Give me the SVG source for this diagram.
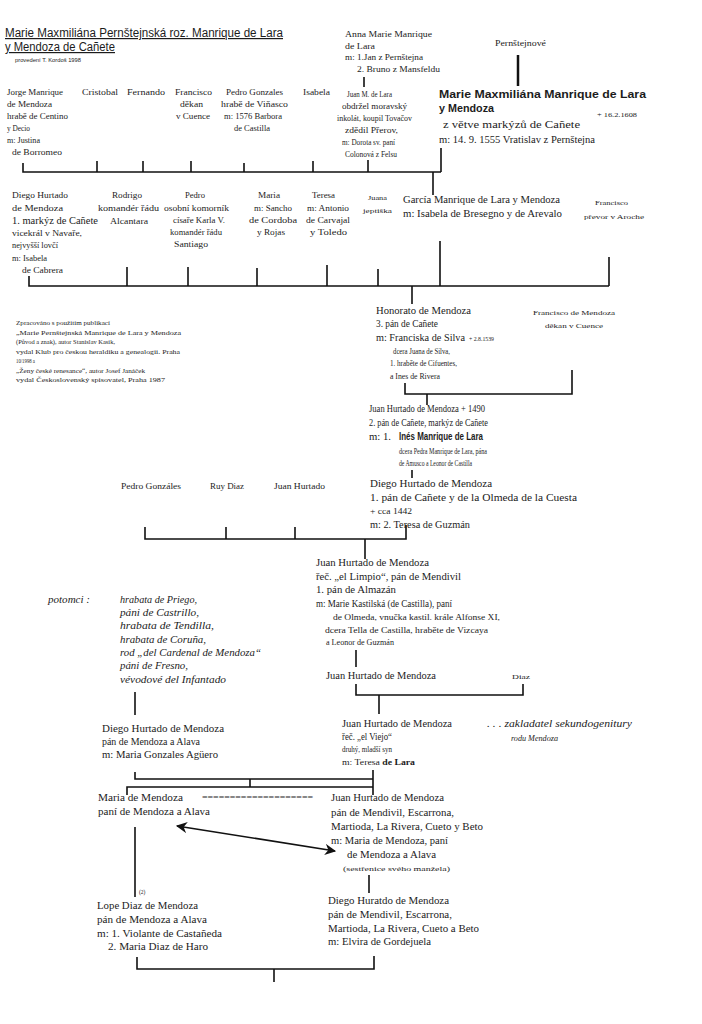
<svg xmlns="http://www.w3.org/2000/svg" width="702" height="1024" viewBox="0 0 702 1024">
<defs>
<style>
text{font-family:"Liberation Serif","Times New Roman",serif;fill:#1c1c1c;font-size:10px}
.m{font-size:9px}
.s{font-size:8px}
.xs{font-size:7px}
.xxs{font-size:5.5px}
.i{font-style:italic}
.sans{font-family:"Liberation Sans",Arial,sans-serif}
.bold{font-family:"Liberation Sans",Arial,sans-serif;font-weight:bold;font-size:11.5px}
.ttl{font-family:"Liberation Sans",Arial,sans-serif;font-size:12px;text-decoration:underline}
#connectors path{stroke:#111;stroke-width:1.6;fill:none}
</style>
<marker id="ah" viewBox="0 0 10 10" refX="9" refY="5" markerWidth="7" markerHeight="7" orient="auto-start-reverse"><path d="M0,0 L10,5 L0,10 L3,5 z" fill="#111"/></marker>
</defs>
<rect width="702" height="1024" fill="#fff"/>

<g id="title">
<text class="ttl" x="5" y="37" textLength="278" lengthAdjust="spacingAndGlyphs">Marie Maxmiliána Pernštejnská roz. Manrique de Lara</text>
<text class="ttl" x="5" y="51" textLength="110" lengthAdjust="spacingAndGlyphs">y Mendoza de Cañete</text>
<text class="xxs sans" x="15" y="62" textLength="66" lengthAdjust="spacingAndGlyphs">provedení T. Kordoš 1998</text>
</g>

<g id="anna">
<text class="s" x="345" y="37" textLength="87" lengthAdjust="spacingAndGlyphs">Anna  Marie Manrique</text>
<text class="s" x="345" y="49" textLength="30" lengthAdjust="spacingAndGlyphs">de Lara</text>
<text class="s" x="345" y="60" textLength="78" lengthAdjust="spacingAndGlyphs">m: 1.Jan z Pernštejna</text>
<text class="s" x="357" y="72" textLength="83" lengthAdjust="spacingAndGlyphs">2. Bruno z Mansfeldu</text>
</g>

<g id="pernstejnove">
<text class="m" x="495" y="46" textLength="51" lengthAdjust="spacingAndGlyphs">Pernštejnové</text>
</g>

<g id="juan-m-de-lara">
<text class="s" x="347" y="97" textLength="45" lengthAdjust="spacingAndGlyphs">Juan M. de Lara</text>
<text class="s" x="342" y="109" textLength="65" lengthAdjust="spacingAndGlyphs">obdržel moravský</text>
<text class="s" x="337" y="121" textLength="75" lengthAdjust="spacingAndGlyphs">inkolát, koupil Tovačov</text>
<text class="s" x="345" y="133" textLength="53" lengthAdjust="spacingAndGlyphs">zdědil Přerov,</text>
<text class="s" x="342" y="145" textLength="53" lengthAdjust="spacingAndGlyphs">m: Dorota sv. paní</text>
<text class="s" x="345" y="157" textLength="52" lengthAdjust="spacingAndGlyphs">Colonová z Felsu</text>
</g>

<g id="marie">
<text class="bold" x="439" y="98" textLength="207" lengthAdjust="spacingAndGlyphs">Marie  Maxmiliána  Manrique  de  Lara</text>
<text class="bold" x="439" y="112" textLength="55" lengthAdjust="spacingAndGlyphs">y Mendoza</text>
<text class="xs" x="597" y="117" textLength="40" lengthAdjust="spacingAndGlyphs">+ 16.2.1608</text>
<text x="443" y="128" textLength="137" lengthAdjust="spacingAndGlyphs">z větve  markýzů  de Cañete</text>
<text x="439" y="143" textLength="156" lengthAdjust="spacingAndGlyphs">m: 14. 9. 1555 Vratislav  z Pernštejna</text>
</g>

<g id="jorge">
<text class="m" x="7" y="95" textLength="56" lengthAdjust="spacingAndGlyphs">Jorge Manrique</text>
<text class="m" x="7" y="107" textLength="45" lengthAdjust="spacingAndGlyphs">de Mendoza</text>
<text class="m" x="7" y="119" textLength="61" lengthAdjust="spacingAndGlyphs">hrabě de Centino</text>
<text class="m" x="7" y="131" textLength="23" lengthAdjust="spacingAndGlyphs">y Decio</text>
<text class="m" x="7" y="143" textLength="33" lengthAdjust="spacingAndGlyphs">m: Justina</text>
<text class="m" x="12" y="155" textLength="50" lengthAdjust="spacingAndGlyphs">de Borromeo</text>
</g>
<g id="cristobal"><text class="m" x="82" y="95" textLength="36" lengthAdjust="spacingAndGlyphs">Cristobal</text></g>
<g id="fernando"><text class="m" x="127" y="95" textLength="38" lengthAdjust="spacingAndGlyphs">Fernando</text></g>
<g id="francisco-1">
<text class="m" x="175" y="95" textLength="37" lengthAdjust="spacingAndGlyphs">Francisco</text>
<text class="m" x="180" y="107" textLength="23" lengthAdjust="spacingAndGlyphs">děkan</text>
<text class="m" x="176" y="119" textLength="34" lengthAdjust="spacingAndGlyphs">v Cuence</text>
</g>
<g id="pedro-gonzales-1">
<text class="m" x="226" y="95" textLength="57" lengthAdjust="spacingAndGlyphs">Pedro Gonzales</text>
<text class="m" x="221" y="107" textLength="67" lengthAdjust="spacingAndGlyphs">hrabě de Viňasco</text>
<text class="m" x="224" y="119" textLength="58" lengthAdjust="spacingAndGlyphs">m: 1576 Barbora</text>
<text class="m" x="234" y="131" textLength="36" lengthAdjust="spacingAndGlyphs">de Castilla</text>
</g>
<g id="isabela"><text class="m" x="303" y="95" textLength="27" lengthAdjust="spacingAndGlyphs">Isabela</text></g>

<g id="diego-1-markyz">
<text class="m" x="12" y="198" textLength="56" lengthAdjust="spacingAndGlyphs">Diego Hurtado</text>
<text class="m" x="12" y="211" textLength="51" lengthAdjust="spacingAndGlyphs">de Mendoza</text>
<text x="12" y="224" style="font-size:10.5px" textLength="86" lengthAdjust="spacingAndGlyphs">1. markýz de Cañete</text>
<text class="s" x="12" y="236" textLength="70" lengthAdjust="spacingAndGlyphs">vicekrál v  Navaře,</text>
<text class="s" x="12" y="248" textLength="46" lengthAdjust="spacingAndGlyphs">nejvyšší lovčí</text>
<text class="s" x="12" y="261" textLength="35" lengthAdjust="spacingAndGlyphs">m: Isabela</text>
<text class="s" x="22" y="273" textLength="41" lengthAdjust="spacingAndGlyphs">de Cabrera</text>
</g>
<g id="rodrigo">
<text class="s" x="112" y="198" textLength="30" lengthAdjust="spacingAndGlyphs">Rodrigo</text>
<text class="s" x="98" y="211" textLength="61" lengthAdjust="spacingAndGlyphs">komandér řádu</text>
<text class="s" x="110" y="224" textLength="38" lengthAdjust="spacingAndGlyphs">Alcantara</text>
</g>
<g id="pedro-komornik">
<text class="s" x="185" y="198" textLength="20" lengthAdjust="spacingAndGlyphs">Pedro</text>
<text class="s" x="164" y="211" textLength="65" lengthAdjust="spacingAndGlyphs">osobní komorník</text>
<text class="s" x="173" y="223" textLength="52" lengthAdjust="spacingAndGlyphs">císaře Karla V.</text>
<text class="s" x="170" y="235" textLength="52" lengthAdjust="spacingAndGlyphs">komandér řádu</text>
<text class="s" x="174" y="247" textLength="34" lengthAdjust="spacingAndGlyphs">Santiago</text>
</g>
<g id="maria-1">
<text class="s" x="258" y="198" textLength="22" lengthAdjust="spacingAndGlyphs">Maria</text>
<text class="s" x="254" y="211" textLength="38" lengthAdjust="spacingAndGlyphs">m: Sancho</text>
<text class="s" x="249" y="223" textLength="48" lengthAdjust="spacingAndGlyphs">de Cordoba</text>
<text class="s" x="257" y="235" textLength="28" lengthAdjust="spacingAndGlyphs">y Rojas</text>
</g>
<g id="teresa-1">
<text class="s" x="312" y="198" textLength="23" lengthAdjust="spacingAndGlyphs">Teresa</text>
<text class="s" x="307" y="211" textLength="42" lengthAdjust="spacingAndGlyphs">m: Antonio</text>
<text class="s" x="306" y="223" textLength="44" lengthAdjust="spacingAndGlyphs">de Carvajal</text>
<text class="s" x="310" y="235" textLength="37" lengthAdjust="spacingAndGlyphs">y Toledo</text>
</g>
<g id="juana">
<text class="xs" x="368" y="200" textLength="19" lengthAdjust="spacingAndGlyphs">Juana</text>
<text class="xs" x="363" y="213" textLength="29" lengthAdjust="spacingAndGlyphs">jeptiška</text>
</g>
<g id="garcia">
<text x="403" y="203" textLength="157" lengthAdjust="spacingAndGlyphs">García Manrique de Lara y Mendoza</text>
<text x="403" y="217" textLength="159" lengthAdjust="spacingAndGlyphs">m: Isabela de Bresegno y de Arevalo</text>
</g>
<g id="francisco-prevor">
<text class="xs" x="595" y="205" textLength="33" lengthAdjust="spacingAndGlyphs">Francisco</text>
<text class="xs" x="584" y="219" textLength="60" lengthAdjust="spacingAndGlyphs">převor v Aroche</text>
</g>

<g id="sources">
<text class="xs" x="16" y="325" textLength="94" lengthAdjust="spacingAndGlyphs">Zpracováno s použitím publikací</text>
<text class="xs" x="16" y="335" textLength="165" lengthAdjust="spacingAndGlyphs">„Marie Pernštejnská Manrique de Lara y Mendoza</text>
<text class="xs" x="16" y="344" textLength="99" lengthAdjust="spacingAndGlyphs">(Původ a znak), autor Stanislav Kasík,</text>
<text class="xs" x="16" y="354" textLength="164" lengthAdjust="spacingAndGlyphs">vydal Klub pro českou heraldiku a genealogii. Praha</text>
<text class="xs" x="16" y="363" textLength="19" lengthAdjust="spacingAndGlyphs">10/1998 a</text>
<text class="xs" x="16" y="373" textLength="129" lengthAdjust="spacingAndGlyphs">„Ženy české renesance“, autor Josef Janáček</text>
<text class="xs" x="16" y="382" textLength="149" lengthAdjust="spacingAndGlyphs">vydal Československý spisovatel, Praha 1987</text>
</g>

<g id="honorato">
<text x="376" y="314" textLength="95" lengthAdjust="spacingAndGlyphs">Honorato de Mendoza</text>
<text x="376" y="327" textLength="62" lengthAdjust="spacingAndGlyphs">3. pán de Cañete</text>
<text x="376" y="341" textLength="89" lengthAdjust="spacingAndGlyphs">m: Franciska de Silva</text>
<text class="xs" x="469" y="341" textLength="25" lengthAdjust="spacingAndGlyphs">+ 2.8.1539</text>
<text class="s" x="393" y="354" textLength="57" lengthAdjust="spacingAndGlyphs">dcera Juana de Silva,</text>
<text class="s" x="390" y="366" textLength="67" lengthAdjust="spacingAndGlyphs">1. hraběte de Cifuentes,</text>
<text class="m" x="390" y="379" textLength="50" lengthAdjust="spacingAndGlyphs">a  Ines  de  Rivera</text>
</g>
<g id="francisco-de-mendoza">
<text class="xs" x="533" y="315" textLength="82" lengthAdjust="spacingAndGlyphs">Francisco de Mendoza</text>
<text class="xs" x="545" y="328" textLength="58" lengthAdjust="spacingAndGlyphs">děkan v Cuence</text>
</g>

<g id="juan-hurtado-1490">
<text x="369" y="412" textLength="116" lengthAdjust="spacingAndGlyphs">Juan Hurtado de Mendoza + 1490</text>
<text x="369" y="426" textLength="119" lengthAdjust="spacingAndGlyphs">2. pán de Cañete, markýz de Cañete</text>
<text x="369" y="440" textLength="22" lengthAdjust="spacingAndGlyphs">m: 1.</text>
<text class="bold" x="399" y="440" style="font-size:10.5px" textLength="84" lengthAdjust="spacingAndGlyphs">Inés  Manrique  de  Lara</text>
<text class="s" x="399" y="454" textLength="88" lengthAdjust="spacingAndGlyphs">dcera Pedra Manrique de Lara, pána</text>
<text class="s" x="399" y="466" textLength="73" lengthAdjust="spacingAndGlyphs">de Amusco  a Leonor de Castilla</text>
</g>

<g id="pedro-gonzales-2"><text class="s" x="121" y="489" textLength="60" lengthAdjust="spacingAndGlyphs">Pedro Gonzáles</text></g>
<g id="ruy-diaz"><text class="s" x="210" y="489" textLength="34" lengthAdjust="spacingAndGlyphs">Ruy Diaz</text></g>
<g id="juan-hurtado-2"><text class="s" x="274" y="489" textLength="51" lengthAdjust="spacingAndGlyphs">Juan Hurtado</text></g>
<g id="diego-1-pan">
<text x="370" y="487" textLength="122" lengthAdjust="spacingAndGlyphs">Diego Hurtado  de Mendoza</text>
<text x="370" y="501" textLength="207" lengthAdjust="spacingAndGlyphs">1. pán de Cañete  y  de  la  Olmeda de la Cuesta</text>
<text class="m" x="370" y="514" textLength="42" lengthAdjust="spacingAndGlyphs">+ cca 1442</text>
<text x="370" y="528" textLength="100" lengthAdjust="spacingAndGlyphs">m: 2. Teresa de Guzmán</text>
</g>

<g id="juan-el-limpio">
<text x="316" y="566" textLength="113" lengthAdjust="spacingAndGlyphs">Juan Hurtado de Mendoza</text>
<text x="316" y="580" textLength="145" lengthAdjust="spacingAndGlyphs">řeč. „el Limpio“, pán de Mendivil</text>
<text x="316" y="593" textLength="80" lengthAdjust="spacingAndGlyphs">1. pán de Almazán</text>
<text x="316" y="607" textLength="136" lengthAdjust="spacingAndGlyphs">m: Marie Kastilská (de Castilla),  paní</text>
<text class="s" x="333" y="620" textLength="167" lengthAdjust="spacingAndGlyphs">de Olmeda, vnučka  kastil. krále Alfonse XI,</text>
<text class="s" x="325" y="633" textLength="163" lengthAdjust="spacingAndGlyphs">dcera Tella de Castilla, hraběte de Vizcaya</text>
<text class="s" x="326" y="645" textLength="68" lengthAdjust="spacingAndGlyphs">a Leonor de Guzmán</text>
</g>

<g id="potomci">
<text class="i" x="48" y="603" textLength="42" lengthAdjust="spacingAndGlyphs">potomci :</text>
<text class="i" x="120" y="603" textLength="77" lengthAdjust="spacingAndGlyphs">hrabata de Priego,</text>
<text class="i" x="120" y="616" textLength="79" lengthAdjust="spacingAndGlyphs">páni de Castrillo,</text>
<text class="i" x="120" y="629" textLength="94" lengthAdjust="spacingAndGlyphs">hrabata de Tendilla,</text>
<text class="i" x="120" y="643" textLength="86" lengthAdjust="spacingAndGlyphs">hrabata de Coruña,</text>
<text class="i" x="120" y="656" textLength="141" lengthAdjust="spacingAndGlyphs">rod „del Cardenal de Mendoza“</text>
<text class="i" x="120" y="669" textLength="68" lengthAdjust="spacingAndGlyphs">páni de Fresno,</text>
<text class="i" x="120" y="683" textLength="106" lengthAdjust="spacingAndGlyphs">vévodové del Infantado</text>
</g>

<g id="juan-hurtado-3"><text x="326" y="679" textLength="110" lengthAdjust="spacingAndGlyphs">Juan Hurtado de Mendoza</text></g>
<g id="diaz"><text class="xs" x="512" y="679" textLength="18" lengthAdjust="spacingAndGlyphs">Diaz</text></g>

<g id="diego-pan-alava">
<text x="102" y="732" textLength="122" lengthAdjust="spacingAndGlyphs">Diego Hurtado de Mendoza</text>
<text x="102" y="745" textLength="98" lengthAdjust="spacingAndGlyphs">pán de Mendoza a Alava</text>
<text x="102" y="758" textLength="116" lengthAdjust="spacingAndGlyphs">m: Maria Gonzales Agüero</text>
</g>
<g id="juan-el-viejo">
<text x="342" y="727" textLength="110" lengthAdjust="spacingAndGlyphs">Juan Hurtado de Mendoza</text>
<text x="342" y="740" textLength="50" lengthAdjust="spacingAndGlyphs">řeč. „el Viejo“</text>
<text class="s" x="342" y="752" textLength="50" lengthAdjust="spacingAndGlyphs">druhý, mladší syn</text>
<text class="s" x="342" y="765" textLength="73" lengthAdjust="spacingAndGlyphs">m: Teresa <tspan font-weight="bold">de  Lara</tspan></text>
</g>
<g id="zakladatel">
<text class="i" x="487" y="727" textLength="145" lengthAdjust="spacingAndGlyphs">. . .  zakladatel sekundogenitury</text>
<text class="i s" x="511" y="741" textLength="47" lengthAdjust="spacingAndGlyphs">rodu Mendoza</text>
</g>

<g id="maria-de-mendoza">
<text x="98" y="801" textLength="85" lengthAdjust="spacingAndGlyphs">Maria de Mendoza</text>
<text x="98" y="815" textLength="112" lengthAdjust="spacingAndGlyphs">paní de Mendoza a Alava</text>
</g>
<g id="marriage-sign"><text class="s" x="202" y="800" textLength="111" lengthAdjust="spacingAndGlyphs">====================</text></g>
<g id="juan-mendivil">
<text x="331" y="801" textLength="113" lengthAdjust="spacingAndGlyphs">Juan Hurtado de Mendoza</text>
<text x="331" y="816" textLength="123" lengthAdjust="spacingAndGlyphs">pán de Mendivil, Escarrona,</text>
<text x="331" y="830" textLength="152" lengthAdjust="spacingAndGlyphs">Martioda, La Rivera, Cueto y Beto</text>
<text x="331" y="844" textLength="117" lengthAdjust="spacingAndGlyphs">m: Maria de Mendoza, paní</text>
<text x="347" y="858" textLength="89" lengthAdjust="spacingAndGlyphs">de Mendoza a Alava</text>
<text class="xs" x="343" y="871" textLength="107" lengthAdjust="spacingAndGlyphs">(sestřenice svého manžela)</text>
</g>

<g id="lope">
<text class="xxs" x="139" y="894">(2)</text>
<text x="97" y="909" textLength="101" lengthAdjust="spacingAndGlyphs">Lope Diaz de Mendoza</text>
<text x="97" y="923" textLength="110" lengthAdjust="spacingAndGlyphs">pán de Mendoza a Alava</text>
<text x="97" y="937" textLength="125" lengthAdjust="spacingAndGlyphs">m: 1. Violante de Castañeda</text>
<text x="108" y="950" textLength="100" lengthAdjust="spacingAndGlyphs">2. Maria Diaz de Haro</text>
</g>
<g id="diego-huratdo">
<text x="328" y="904" textLength="121" lengthAdjust="spacingAndGlyphs">Diego Huratdo de Mendoza</text>
<text x="328" y="918" textLength="124" lengthAdjust="spacingAndGlyphs">pán de Mendivil, Escarrona,</text>
<text x="328" y="932" textLength="151" lengthAdjust="spacingAndGlyphs">Martioda, La Rivera, Cueto a Beto</text>
<text x="328" y="945" textLength="103" lengthAdjust="spacingAndGlyphs">m: Elvira de Gordejuela</text>
</g>

<g id="connectors">
<path d="M518 55V86" style="stroke-width:2.5"/>
<path d="M364 77V87"/>
<path d="M23 163V172H441"/>
<path d="M97 161V172M143 161V172M191 161V172M244 163V172M313 161V172M368 160V172M441 148V172"/>
<path d="M433 172V195"/>
<path d="M29 276V286H609"/>
<path d="M127 267V286M188 267V286M257 268V286M327 265V286M378 269V286M440 241V286M609 257V286"/>
<path d="M412 286V304"/>
<path d="M405 383V394H572V370"/>
<path d="M427 394V405"/>
<path d="M412 470V478"/>
<path d="M145 527V539H406V525M226 527V539M295 527V539"/>
<path d="M365 539V559"/>
<path d="M356 650V667"/>
<path d="M356 684V695H523V684"/>
<path d="M379 695V714"/>
<path d="M135 692V715"/>
<path d="M135 772V779H373M373 770V795M250 779V787M127 795V787H373"/>
<path d="M177 826L335 851" marker-start="url(#ah)" marker-end="url(#ah)"/>
<path d="M135 827V897"/>
<path d="M369 875V893"/>
<path d="M137 957V969H374V956"/>
<path d="M274 969V982"/>
</g>
</svg>
